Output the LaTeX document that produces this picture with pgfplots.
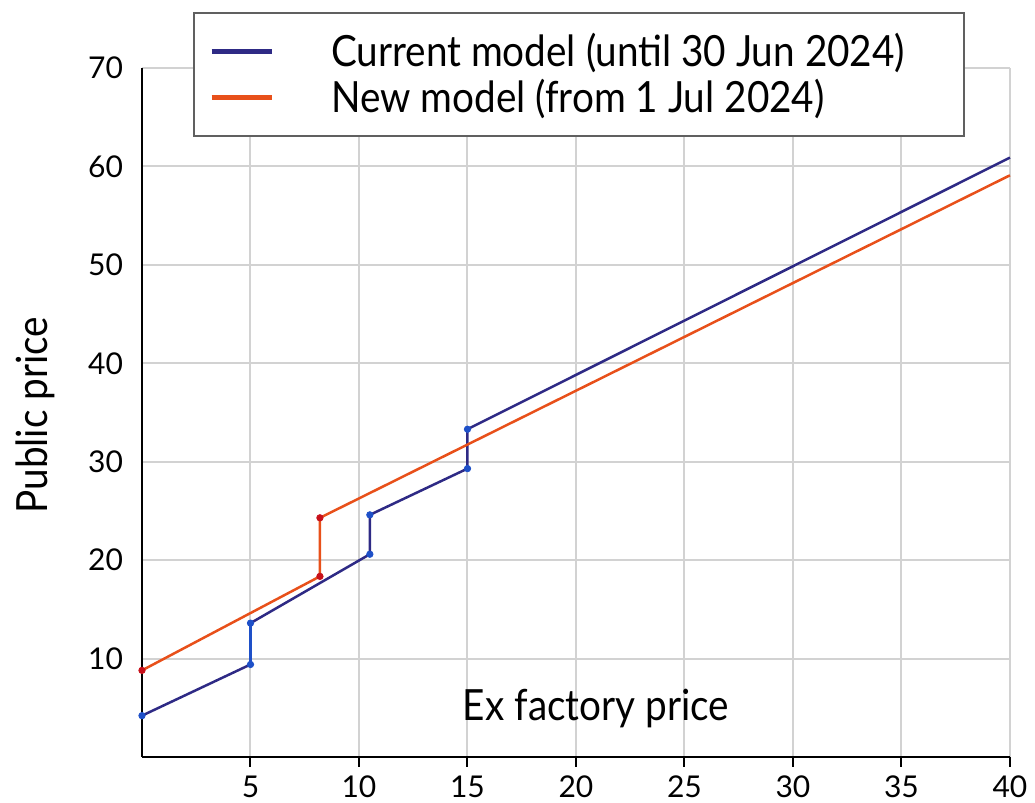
\documentclass[border=0pt]{standalone}
\usepackage{fontspec}
\setmainfont{Lato}
\newfontfamily\condfont[FakeStretch=0.9]{Lato}
\usepackage{pgfplots}
\pgfplotsset{compat=1.18}
\definecolor{navy}{HTML}{2E2A85}
\definecolor{orng}{HTML}{E8501A}
\definecolor{mblue}{HTML}{1E50C8}
\definecolor{mred}{HTML}{C8101A}
\definecolor{gridc}{HTML}{D2D2D2}
\begin{document}
\begin{tikzpicture}
\path[use as bounding box] (-71pt,-23pt) rectangle (446.5pt,378.5pt);
\begin{axis}[
  at={(0pt,0pt)}, anchor=south west,
  scale only axis, width=434pt, height=344.5pt,
  xmin=0, xmax=40, ymin=0, ymax=70,
  axis x line=bottom, axis y line=left,
  axis line style={-, black, line width=1pt},
  xtick={5,10,...,40}, ytick={10,20,...,70},
  grid=major, major grid style={gridc, line width=1pt},
  tick align=outside, major tick length=5pt,
  x tick style={black, line width=1pt},
  y tick style={draw=none},
  /pgf/number format/assume math mode=true,
  ticklabel style={font=\fontsize{15}{18}\selectfont},
  xticklabel style={yshift=-1pt},
  yticklabel style={xshift=-1pt},
  xlabel={Ex factory price},
  xlabel style={at={(rel axis cs:0.523,0.071)}, anchor=center, font=\condfont\fontsize{21.5}{25}\selectfont},
  ylabel={Public price},
  ylabel style={at={(rel axis cs:-0.1233,0.496)}, anchor=center, font=\condfont\fontsize{21.5}{25}\selectfont},
  legend style={at={(rel axis cs:0.0588,1.0813)}, anchor=north west,
    draw=gray!75!black, line width=1pt, fill=white,
    inner xsep=7.5pt, inner ysep=8pt, row sep=1pt,
    font=\condfont\fontsize{21.5}{25}\selectfont,
    /tikz/every odd column/.append style={column sep=26.5pt}},
  legend cell align=left,
  legend image code/.code={\draw[line width=2.5pt] (0pt,0pt) -- (30pt,0pt);},
  clip=false,
]
\addplot[navy, line width=1.25pt] coordinates {
 (0,4.2) (5,9.4) (5,13.6) (10.5,20.6) (10.5,24.6) (15,29.3) (15,33.3) (40,60.9)};
\addlegendentry{\makebox[307pt][l]{Current model (until 30 Jun 2024)}}
\addplot[orng, line width=1.25pt] coordinates {
 (0,8.8) (8.2,18.35) (8.2,24.3) (40,59.1)};
\addlegendentry{\makebox[307pt][l]{New model (from 1 Jul 2024)}}
\addplot[mblue, line width=1.25pt, forget plot] coordinates {(5,9.4) (5,13.6)};
\addplot[only marks, mark=*, mark size=1.6pt, mblue, forget plot] coordinates {
 (0,4.2) (5,9.4) (5,13.6) (10.5,20.6) (10.5,24.6) (15,29.3) (15,33.3)};
\addplot[only marks, mark=*, mark size=1.6pt, mred, forget plot] coordinates {
 (0,8.8) (8.2,18.35) (8.2,24.3)};
\end{axis}
\end{tikzpicture}
\end{document}
